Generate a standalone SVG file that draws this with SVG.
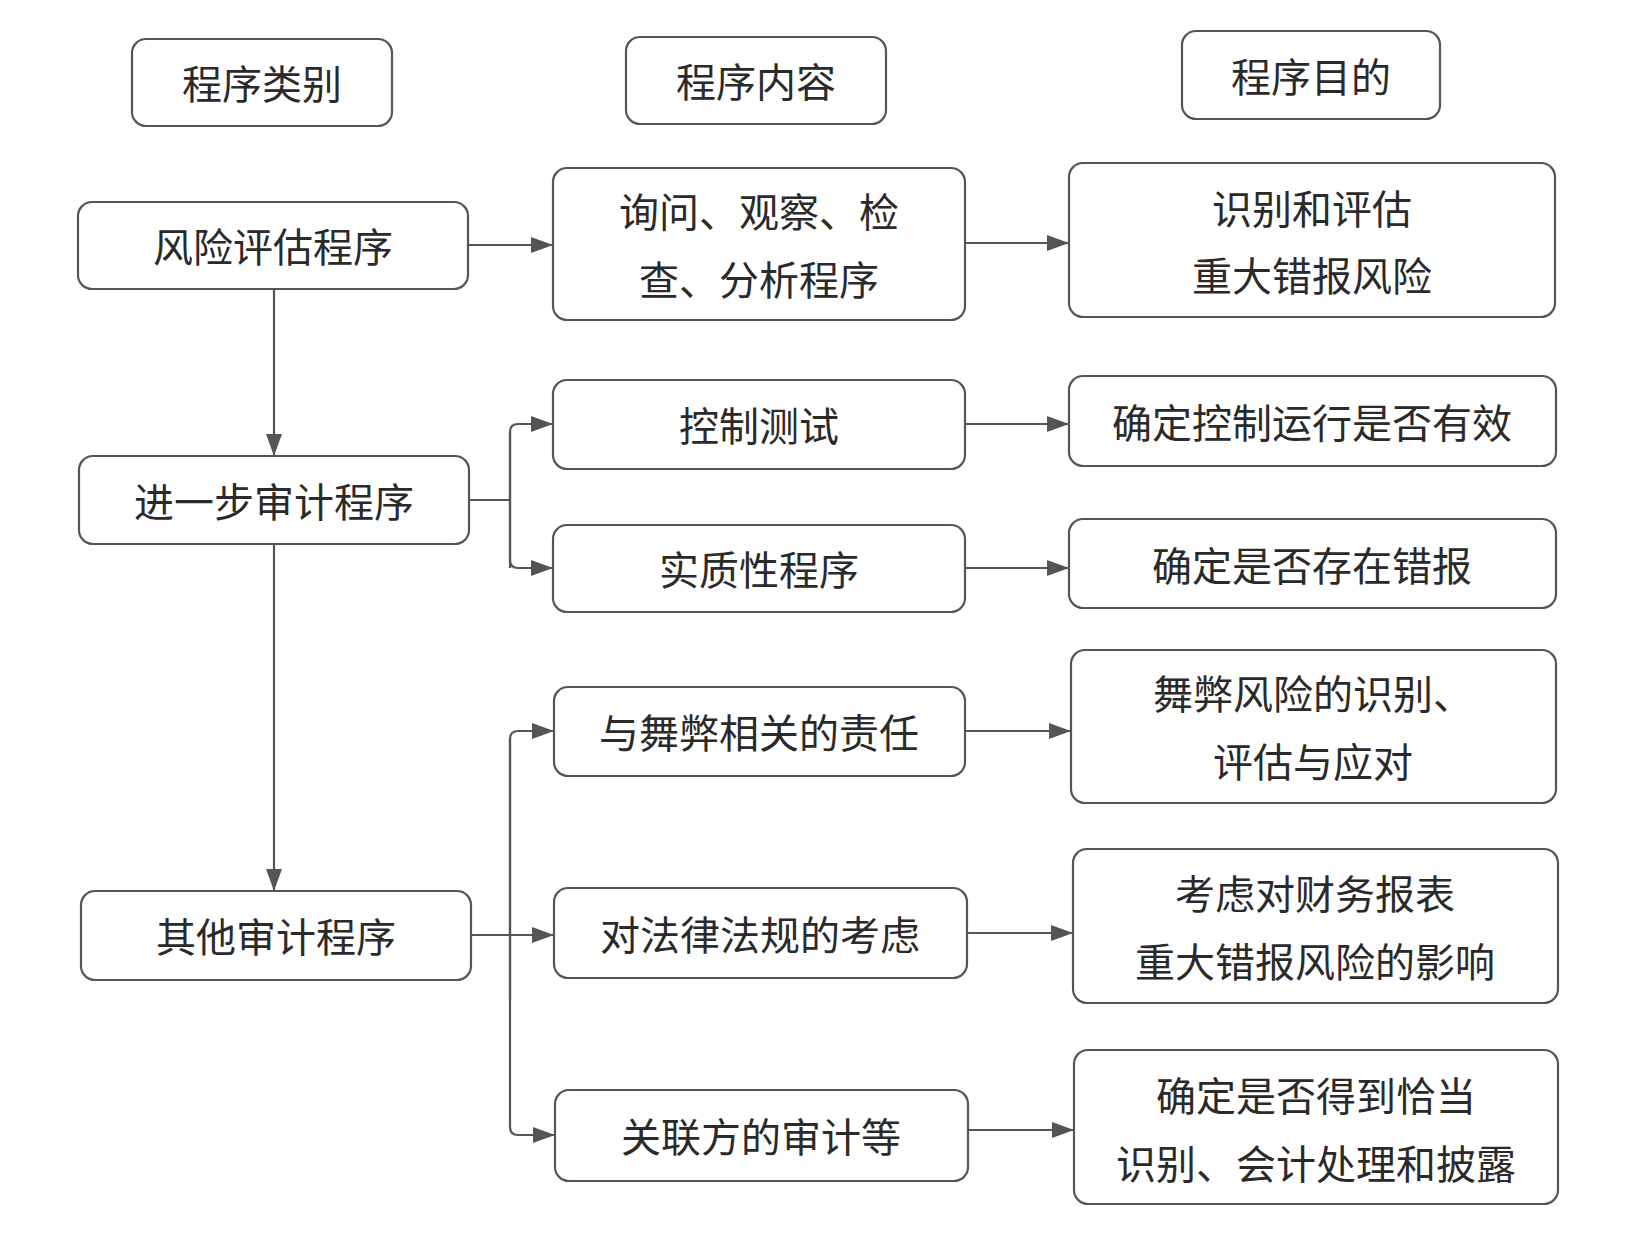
<svg xmlns="http://www.w3.org/2000/svg" width="1645" height="1241" viewBox="0 0 1645 1241">
<style>
rect{fill:#fff;stroke:#555;stroke-width:2.2}
text{font-family:"Noto Sans CJK SC",sans-serif;font-size:40px;fill:#2a2a2a;text-anchor:middle;dominant-baseline:central}
.c path,.c line{stroke:#555;stroke-width:2.2;fill:none}
</style>
<defs><marker id="a" markerWidth="22" markerHeight="16" refX="21" refY="8" orient="auto" markerUnits="userSpaceOnUse"><path d="M0,0 L22,8 L0,16 Z" fill="#555"/></marker></defs>
<rect width="1645" height="1241" style="fill:#fff;stroke:none"/>
<g id="h1"><rect x="132" y="39" width="260" height="87" rx="14"/><text x="262" y="82">程序类别</text></g>
<g id="h2"><rect x="626" y="37" width="260" height="87" rx="14"/><text x="756" y="80">程序内容</text></g>
<g id="h3"><rect x="1182" y="31" width="258" height="88" rx="14"/><text x="1311" y="75">程序目的</text></g>
<g id="n1"><rect x="78" y="202" width="390" height="87" rx="14"/><text x="273" y="245">风险评估程序</text></g>
<g id="n2"><rect x="79" y="456" width="390" height="88" rx="14"/><text x="274" y="500">进一步审计程序</text></g>
<g id="n3"><rect x="81" y="891" width="390" height="89" rx="14"/><text x="276" y="935">其他审计程序</text></g>
<g id="m1"><rect x="553" y="168" width="412" height="152" rx="14"/><text x="759" y="210">询问、观察、检</text><text x="759" y="278">查、分析程序</text></g>
<g id="m2"><rect x="553" y="380" width="412" height="89" rx="14"/><text x="759" y="424">控制测试</text></g>
<g id="m3"><rect x="553" y="525" width="412" height="87" rx="14"/><text x="759" y="568">实质性程序</text></g>
<g id="m4"><rect x="554" y="687" width="411" height="89" rx="14"/><text x="759" y="731">与舞弊相关的责任</text></g>
<g id="m5"><rect x="554" y="888" width="413" height="90" rx="14"/><text x="760" y="933">对法律法规的考虑</text></g>
<g id="m6"><rect x="555" y="1090" width="413" height="91" rx="14"/><text x="761" y="1135">关联方的审计等</text></g>
<g id="r1"><rect x="1069" y="163" width="486" height="154" rx="14"/><text x="1312" y="207">识别和评估</text><text x="1312" y="274">重大错报风险</text></g>
<g id="r2"><rect x="1069" y="376" width="487" height="90" rx="14"/><text x="1312" y="421">确定控制运行是否有效</text></g>
<g id="r3"><rect x="1069" y="519" width="487" height="89" rx="14"/><text x="1312" y="564">确定是否存在错报</text></g>
<g id="r4"><rect x="1071" y="650" width="485" height="153" rx="14"/><text x="1313" y="692">舞弊风险的识别、</text><text x="1313" y="760">评估与应对</text></g>
<g id="r5"><rect x="1073" y="849" width="485" height="154" rx="14"/><text x="1315" y="892">考虑对财务报表</text><text x="1315" y="960">重大错报风险的影响</text></g>
<g id="r6"><rect x="1074" y="1050" width="484" height="154" rx="14"/><text x="1316" y="1094">确定是否得到恰当</text><text x="1316" y="1162">识别、会计处理和披露</text></g>
<g class="c">
<line x1="274" y1="289" x2="274" y2="455" marker-end="url(#a)"/>
<line x1="274" y1="544" x2="274" y2="890" marker-end="url(#a)"/>
<line x1="468" y1="245" x2="552" y2="245" marker-end="url(#a)"/>
<path d="M469,500 H510"/>
<path d="M510,568 V432 Q510,424 518,424 H552" marker-end="url(#a)"/>
<path d="M510,432 V560 Q510,568 518,568 H552" marker-end="url(#a)"/>
<line x1="471" y1="935" x2="553" y2="935" marker-end="url(#a)"/>
<path d="M510,1000 V739 Q510,731 518,731 H553" marker-end="url(#a)"/>
<path d="M510,739 V1127 Q510,1135 518,1135 H554" marker-end="url(#a)"/>
<line x1="965" y1="243" x2="1068" y2="243" marker-end="url(#a)"/>
<line x1="965" y1="424" x2="1068" y2="424" marker-end="url(#a)"/>
<line x1="965" y1="568" x2="1068" y2="568" marker-end="url(#a)"/>
<line x1="965" y1="731" x2="1070" y2="731" marker-end="url(#a)"/>
<line x1="967" y1="933" x2="1072" y2="933" marker-end="url(#a)"/>
<line x1="968" y1="1130" x2="1073" y2="1130" marker-end="url(#a)"/>
</g>
</svg>
